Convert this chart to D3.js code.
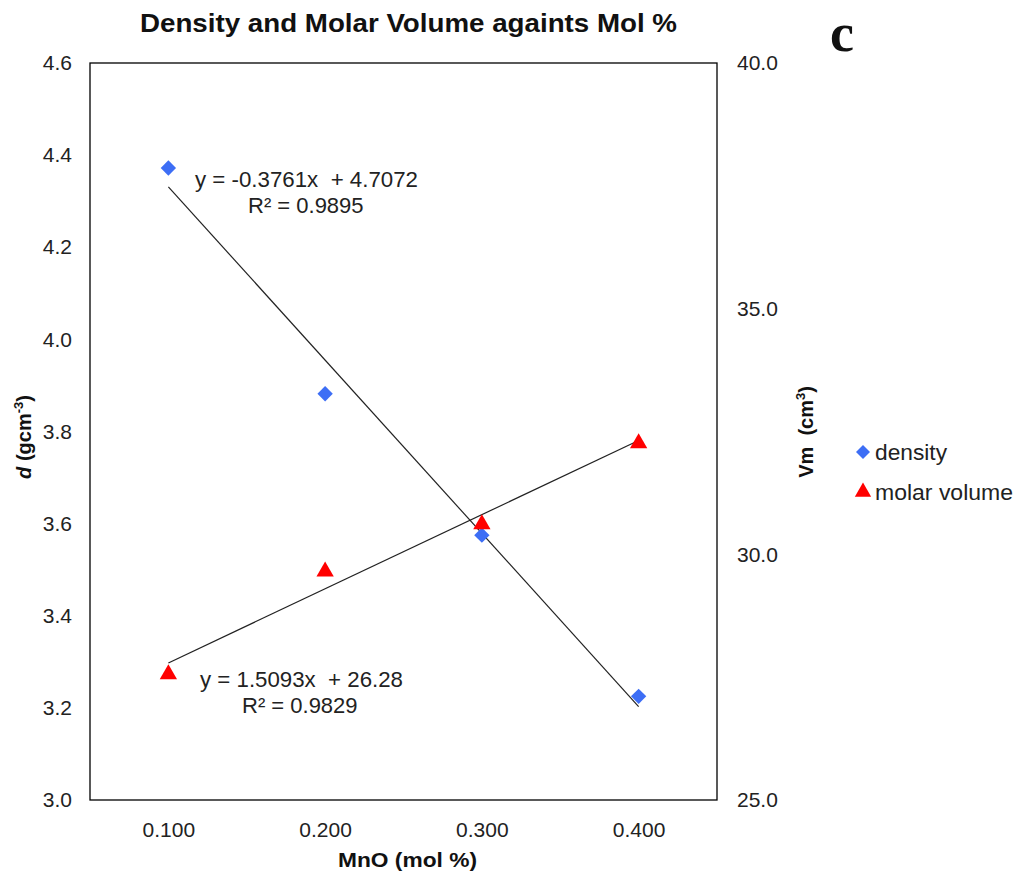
<!DOCTYPE html>
<html><head><meta charset="utf-8">
<script src="https://cdn.jsdelivr.net/npm/d3@7"></script>
<style>body{margin:0;background:#fff}svg{display:block}text{font-family:"Liberation Sans",Arial,sans-serif;white-space:pre}</style>
</head><body><svg id="c" width="1024" height="884"></svg>
<script>
const molPct = [0.1, 0.2, 0.3, 0.4];
const xTicks = [0.1, 0.2, 0.3, 0.4];
const density = [4.372, 3.882, 3.575, 3.225];
const molarVolume = [27.56, 29.65, 30.61, 32.26];
const leftTicks = [3.0, 3.2, 3.4, 3.6, 3.8, 4.0, 4.2, 4.4, 4.6];
const rightTicks = [25.0, 30.0, 35.0, 40.0];
const densityFit = {slope: -0.3761, intercept: 4.7072, r2: "0.9895", label: "y = -0.3761x  + 4.7072"};
const volumeFit = {slope: 1.5093, intercept: 26.28, r2: "0.9829", label: "y = 1.5093x  + 26.28"};

const svg = d3.select("#c");
const L = 90, R = 717, T = 63, B = 800;
const x = d3.scaleLinear().domain([0.05, 0.45]).range([L, R]);
const yL = d3.scaleLinear().domain([3.0, 4.6]).range([B, T]);
const yR = d3.scaleLinear().domain([25, 40]).range([B, T]);

svg.append("rect").attr("x", L).attr("y", T).attr("width", R - L).attr("height", B - T)
  .attr("fill", "none").attr("stroke", "#000").attr("stroke-width", 1.3);

const axL = svg.append("g").attr("transform", `translate(${L},0)`)
  .call(d3.axisLeft(yL).tickValues(leftTicks).tickFormat(d3.format(".1f")).tickSize(0).tickPadding(18));
const axR = svg.append("g").attr("transform", `translate(${R},0)`)
  .call(d3.axisRight(yR).tickValues(rightTicks).tickFormat(d3.format(".1f")).tickSize(0).tickPadding(20));
const axB = svg.append("g").attr("transform", `translate(0,${B})`)
  .call(d3.axisBottom(x).tickValues(xTicks).tickFormat(d3.format(".3f")).tickSize(0).tickPadding(22));
[axL, axR, axB].forEach(a => {
  a.select(".domain").remove();
  a.selectAll("text").attr("font-size", 21).attr("fill", "#222").style("font-family", "'Liberation Sans',Arial,sans-serif");
});

// trend lines (Excel index-based fit x=1..4)
function fitLine(fit, yScale) {
  const pts = molPct.map((m, i) => [x(m), yScale(fit.slope * (i + 1) + fit.intercept)]);
  svg.append("line").attr("x1", pts[0][0]).attr("y1", pts[0][1])
    .attr("x2", pts[3][0]).attr("y2", pts[3][1]).attr("stroke", "#222").attr("stroke-width", 1.2);
}
fitLine(densityFit, yL);
fitLine(volumeFit, yR);

// markers
svg.selectAll(".dens").data(density).join("path")
  .attr("d", d3.symbol(d3.symbolDiamond2, 150)())
  .attr("transform", (d, i) => `translate(${x(molPct[i])},${yL(d)})`)
  .attr("fill", "#3d6ef5");
svg.selectAll(".vol").data(molarVolume).join("path")
  .attr("d", d3.symbol(d3.symbolTriangle, 130)())
  .attr("transform", (d, i) => `translate(${x(molPct[i])},${yR(d)})`)
  .attr("fill", "#ff0000");

// equations
function eq(fit, xx, yy, rx, w) {
  svg.append("text").attr("x", xx).attr("y", yy).attr("font-size", 22).attr("fill", "#222")
    .attr("textLength", w).attr("lengthAdjust", "spacingAndGlyphs").text(fit.label);
  svg.append("text").attr("x", rx).attr("y", yy + 26).attr("font-size", 22).attr("fill", "#222").text("R² = " + fit.r2);
}
eq(densityFit, 195, 187, 248, 223);
eq(volumeFit, 200, 687, 242, 203);

// title
svg.append("text").attr("x", 140).attr("y", 32)
  .attr("font-size", 26).attr("font-weight", "bold").attr("fill", "#111")
  .attr("textLength", 537).attr("lengthAdjust", "spacingAndGlyphs")
  .text("Density and Molar Volume againts Mol %");
svg.append("text").attr("x", 842).attr("y", 51).attr("text-anchor", "middle")
  .attr("font-size", 54).attr("font-weight", "bold").style("font-family", "'Liberation Serif',serif")
  .attr("fill", "#111").text("c");

// axis titles
const lt = svg.append("text").attr("transform", "translate(31,437) rotate(-90)").attr("text-anchor", "middle")
  .attr("font-size", 20).attr("font-weight", "bold").attr("fill", "#111");
lt.append("tspan").attr("font-style", "italic").text("d");
lt.append("tspan").text(" (gcm");
lt.append("tspan").attr("font-size", 13).attr("dy", -8).text("-3");
lt.append("tspan").attr("dy", 8).text(")");

const rt = svg.append("text").attr("transform", "translate(813,432) rotate(-90)").attr("text-anchor", "middle")
  .attr("font-size", 20).attr("font-weight", "bold").attr("fill", "#111");
rt.append("tspan").text("Vm  (cm");
rt.append("tspan").attr("font-size", 13).attr("dy", -8).text("3");
rt.append("tspan").attr("dy", 8).text(")");

svg.append("text").attr("x", 338).attr("y", 867)
  .attr("font-size", 21).attr("font-weight", "bold").attr("fill", "#111")
  .attr("textLength", 139).attr("lengthAdjust", "spacingAndGlyphs").text("MnO (mol %)");

// legend
const legendNames = ["density", "molar volume"];
const legend = [{name: legendNames[0], sym: d3.symbolDiamond2, size: 125, color: "#3d6ef5", w: 72},
                {name: legendNames[1], sym: d3.symbolTriangle, size: 115, color: "#ff0000", w: 138}];
legend.forEach((l, i) => {
  const yy = 452 + i * 40;
  svg.append("path").attr("d", d3.symbol(l.sym, l.size)()).attr("transform", `translate(863,${yy})`).attr("fill", l.color);
  svg.append("text").attr("x", 875).attr("y", yy + 8).attr("font-size", 22).attr("fill", "#222")
    .attr("textLength", l.w).attr("lengthAdjust", "spacingAndGlyphs").text(l.name);
});
</script></body></html>
